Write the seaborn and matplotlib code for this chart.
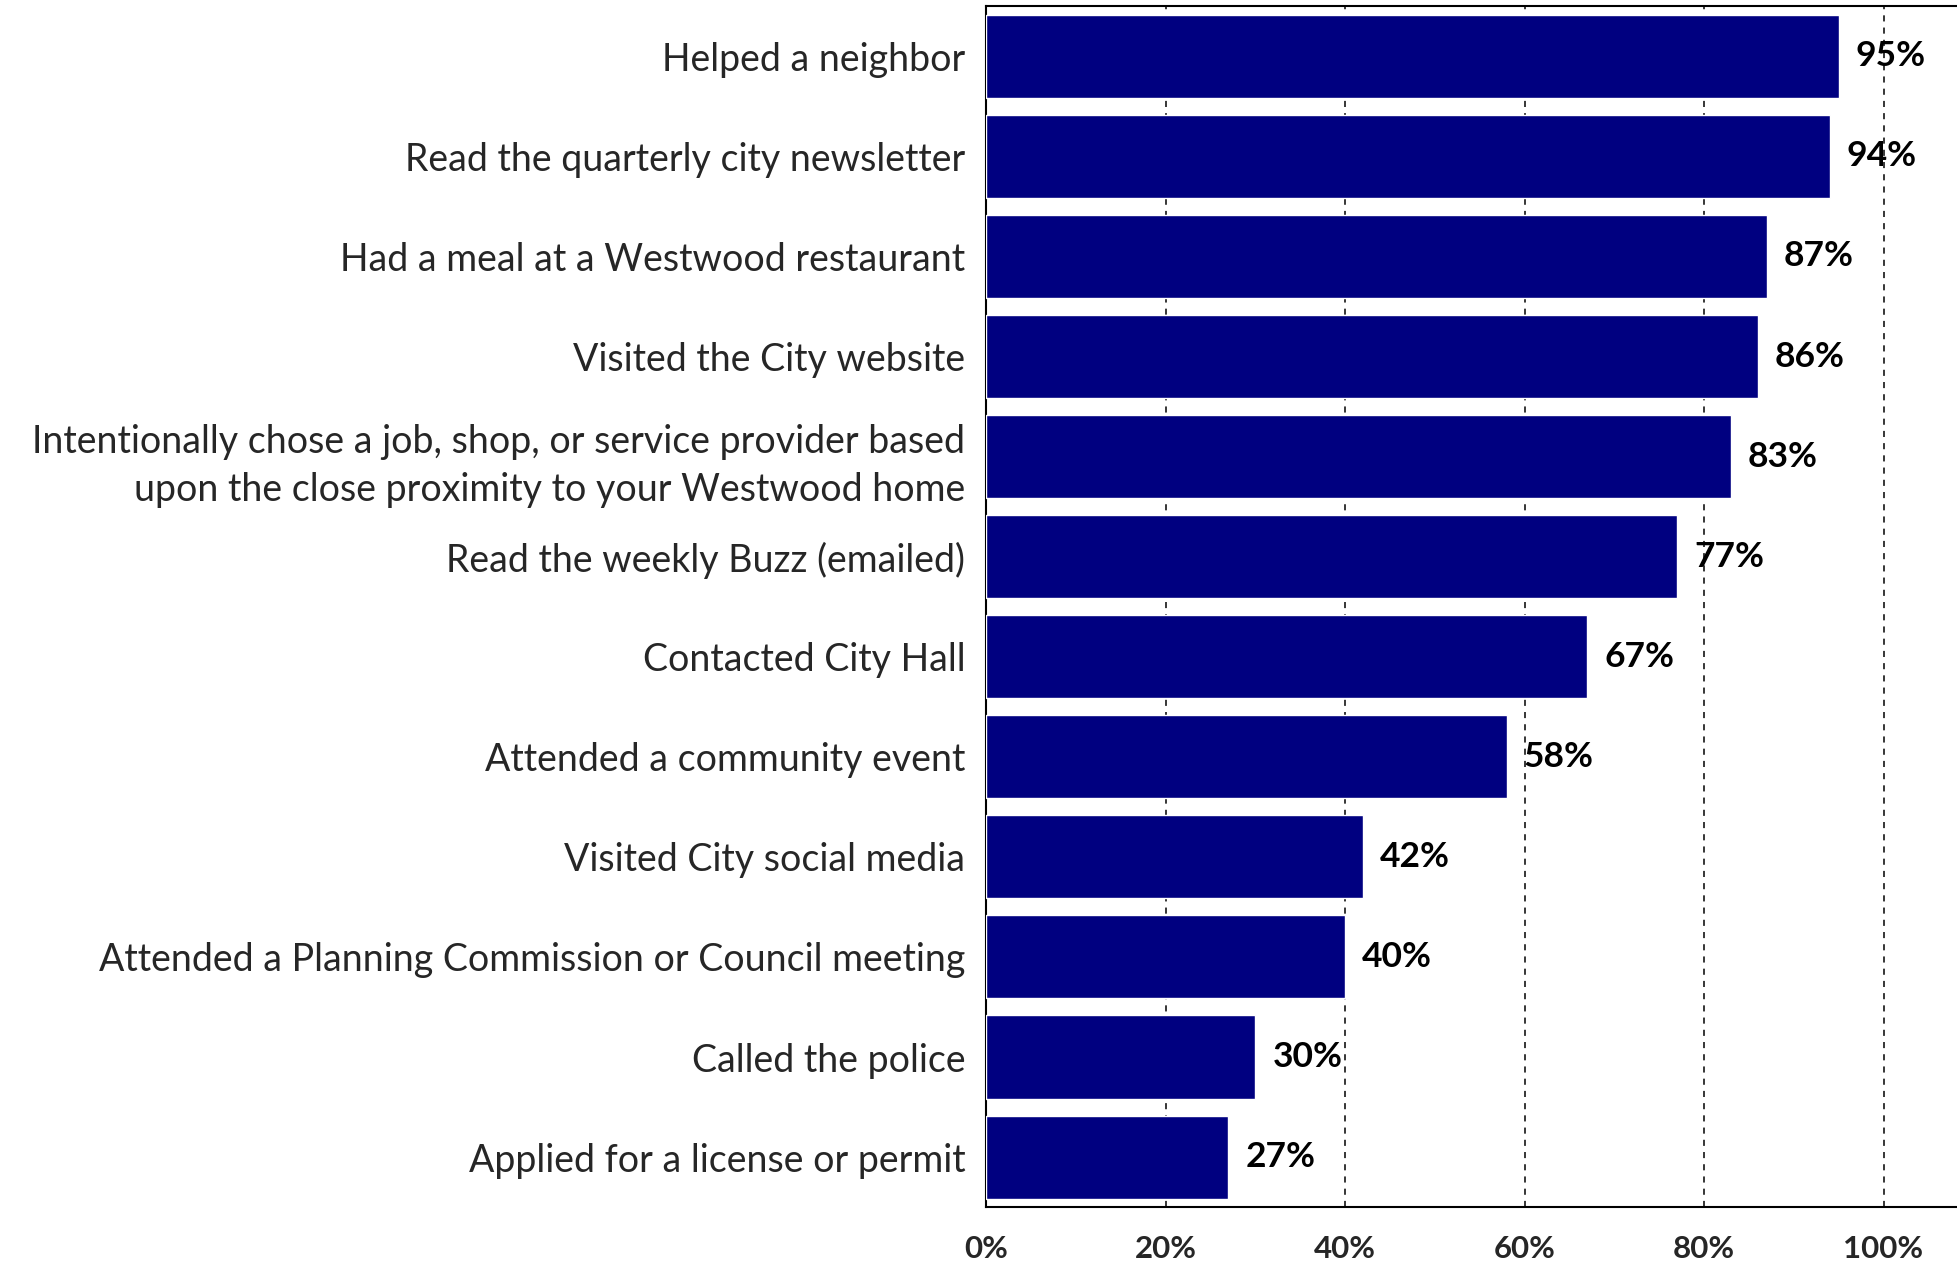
import matplotlib
matplotlib.use('Agg')
import matplotlib.pyplot as plt
import seaborn as sns
import pandas as pd
from matplotlib.ticker import FuncFormatter

# survey activities (share of respondents)
activities = [
    'Helped a neighbor',
    'Read the quarterly city newsletter',
    'Had a meal at a Westwood restaurant',
    'Visited the City website',
    'Intentionally chose a job, shop, or service provider based\nupon the close proximity to your Westwood home',
    'Read the weekly Buzz (emailed)',
    'Contacted City Hall',
    'Attended a community event',
    'Visited City social media',
    'Attended a Planning Commission or Council meeting',
    'Called the police',
    'Applied for a license or permit',
]
percents = [95, 94, 87, 86, 83, 77, 67, 58, 42, 40, 30, 27]
x_ticks = [0, 20, 40, 60, 80, 100]

df = pd.DataFrame({'activity': activities, 'pct': percents})

sns.set_theme(style='white')
plt.rcParams['font.family'] = ['Lato', 'DejaVu Sans']

fig = plt.figure(figsize=(19.58, 12.64), dpi=100)
ax = fig.add_axes([0.5036, 0.045, 0.4964, 0.95])

sns.barplot(data=df, x='pct', y='activity', color='#000080', saturation=1,
            width=0.83, ax=ax, zorder=3)

ax.set_xlim(0, 108.3)
ax.set_ylim(11.5, -0.5)
ax.set_xticks(x_ticks)
ax.xaxis.set_major_formatter(FuncFormatter(lambda v, p: f'{v:.0f}%'))
for t in ax.get_xticklabels():
    t.set_fontweight('bold')
ax.tick_params(axis='x', labelsize=22.5, pad=20, length=0)
ax.tick_params(axis='y', labelsize=27, pad=15, length=0)
ax.set_xlabel('')
ax.set_ylabel('')

for lab in ax.get_yticklabels():
    lab.set_multialignment('right')
    lab.set_linespacing(1.4)

# dashed vertical gridlines
for v in x_ticks[1:]:
    ax.axvline(v, color='black', linestyle=(0, (4, 4)), linewidth=1.1, zorder=1)

for side in ['left', 'bottom', 'top']:
    ax.spines[side].set_color('black')
    ax.spines[side].set_linewidth(1.5)
ax.spines['right'].set_visible(False)

for i, v in enumerate(percents):
    ax.text(v + 1.9, i, f'{v}%', va='center', ha='left', fontsize=25.5,
            fontweight='bold', color='black', zorder=4)

fig.savefig('out.png', dpi=100)
